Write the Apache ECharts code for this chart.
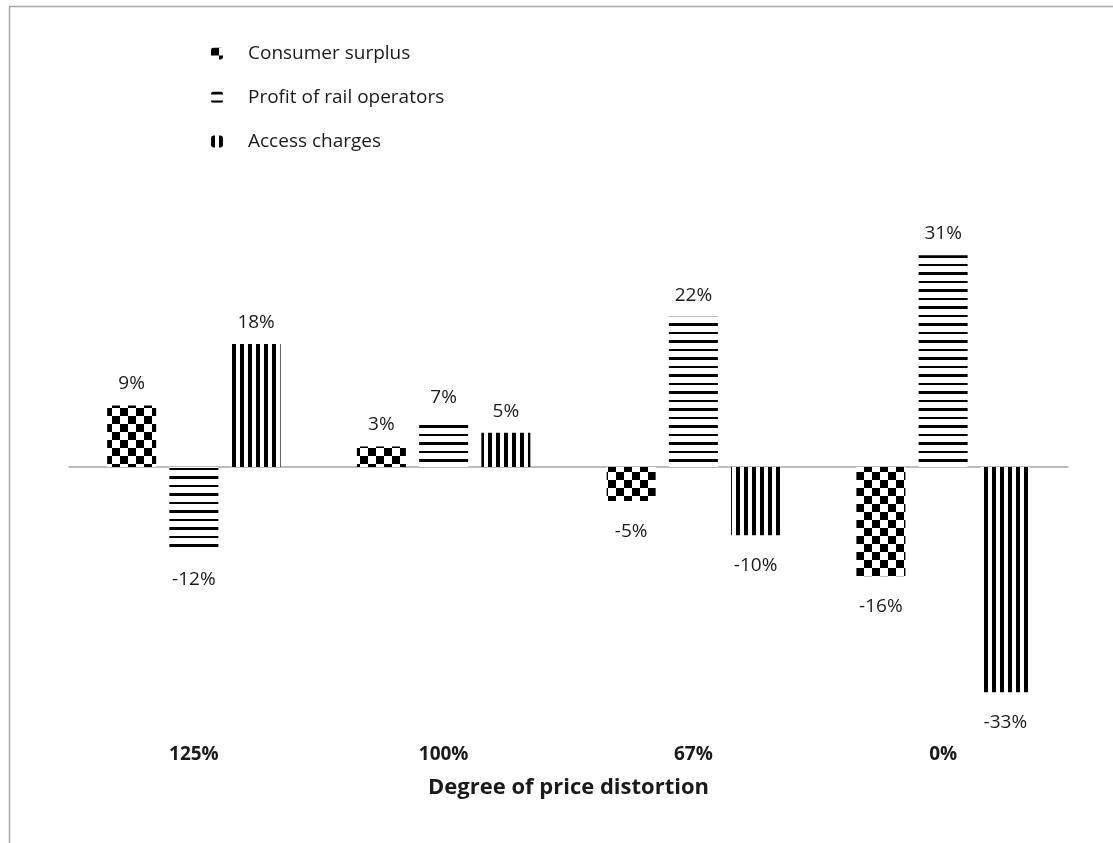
<!DOCTYPE html>
<html>
<head>
<meta charset="utf-8">
<script src="https://cdn.jsdelivr.net/npm/echarts@6/dist/echarts.min.js"></script>
<style>
  html, body { margin: 0; padding: 0; background: #fff; }
  #chart { width: 1113px; height: 843px; }
</style>
</head>
<body>
<div id="chart"></div>
<script>
var categories = ['125%', '100%', '67%', '0%'];
var seriesNames = ['Consumer surplus', 'Profit of rail operators', 'Access charges'];
var consumerSurplus = [9, 3, -5, -16];
var railProfit = [-12, 7, 22, 31];
var accessCharges = [18, 5, -10, -33];

// black & white fill patterns, like the Excel original
function makePattern(kind) {
    var c = document.createElement('canvas');
    var ctx;
    if (kind == 'checker') {
        c.width = 16; c.height = 16;
        ctx = c.getContext('2d');
        ctx.fillStyle = '#fff';
        ctx.fillRect(0, 0, 16, 16);
        ctx.fillStyle = '#000';
        ctx.fillRect(0, 0, 8, 8);
        ctx.fillRect(8, 8, 8, 8);
    } else if (kind == 'horizontal') {
        c.width = 16; c.height = 17;
        ctx = c.getContext('2d');
        ctx.fillStyle = '#fff';
        ctx.fillRect(0, 0, 16, 17);
        ctx.fillStyle = '#000';
        ctx.fillRect(0, 0, 16, 3);
        ctx.fillRect(0, 9, 16, 2);
    } else {
        c.width = 8; c.height = 8;
        ctx = c.getContext('2d');
        ctx.fillStyle = '#fff';
        ctx.fillRect(0, 0, 8, 8);
        ctx.fillStyle = '#000';
        ctx.fillRect(0, 0, 4, 8);
    }
    return { image: c, repeat: 'repeat' };
}

function withLabels(values) {
    return values.map(function (v) {
        return {
            value: v,
            label: {
                position: v >= 0 ? 'top' : 'bottom',
                distance: v >= 0 ? 12 : 21
            }
        };
    });
}

function barSeries(name, values, pattern) {
    return {
        name: name,
        type: 'bar',
        xAxisIndex: 0,
        barWidth: 49,
        barGap: '27%',
        data: withLabels(values),
        itemStyle: { color: makePattern(pattern) },
        label: {
            show: true,
            formatter: '{c}%',
            color: '#1a1a1a',
            fontFamily: 'Open Sans',
            fontSize: 19
        }
    };
}

var chart = echarts.init(document.getElementById('chart'));
var option = {
    animation: false,
    backgroundColor: '#fff',
    graphic: [{
        type: 'rect',
        shape: { x: 9.5, y: 6.5, width: 2000, height: 2000 },
        style: { fill: null, stroke: '#a6a6a6', lineWidth: 1.5 },
        silent: true
    }],
    legend: {
        orient: 'vertical',
        left: 206,
        top: 39,
        itemWidth: 12,
        itemHeight: 12,
        itemGap: 25,
        data: seriesNames,
        textStyle: { fontFamily: 'Open Sans', fontSize: 19, color: '#1a1a1a', padding: [0, 0, 0, 20] }
    },
    grid: {
        left: 69,
        right: 45,
        top: 228,
        bottom: 103
    },
    xAxis: [{
        type: 'category',
        data: categories,
        position: 'bottom',
        axisLine: { show: false, onZero: false },
        axisTick: { show: false },
        axisLabel: {
            margin: 5,
            fontFamily: 'Open Sans',
            fontWeight: 'bold',
            fontSize: 19,
            color: '#1a1a1a'
        },
        name: 'Degree of price distortion',
        nameLocation: 'middle',
        nameGap: 37,
        nameTextStyle: {
            fontFamily: 'Open Sans',
            fontWeight: 'bold',
            fontSize: 22,
            color: '#1a1a1a'
        }
    }, {
        type: 'category',
        data: categories,
        position: 'top',
        axisLine: { show: true, onZero: true, lineStyle: { color: '#a6a6a6', width: 1.5 } },
        axisTick: { show: false },
        axisLabel: { show: false }
    }],
    yAxis: {
        type: 'value',
        min: -40,
        max: 35,
        show: false,
        splitLine: { show: false }
    },
    series: [
        barSeries(seriesNames[0], consumerSurplus, 'checker'),
        barSeries(seriesNames[1], railProfit, 'horizontal'),
        barSeries(seriesNames[2], accessCharges, 'vertical')
    ]
};
chart.setOption(option);
</script>
</body>
</html>
